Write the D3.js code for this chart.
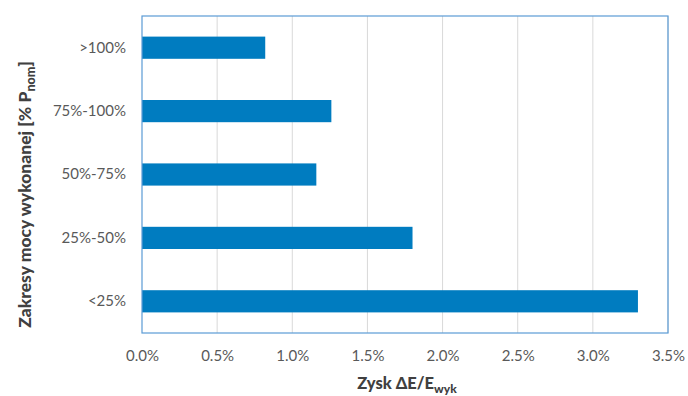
<!DOCTYPE html>
<html>
<head>
<meta charset="utf-8">
<script src="https://cdn.jsdelivr.net/npm/d3@7"></script>
<style>
  body { margin: 0; background: #fff; }
  svg { display: block; }
</style>
</head>
<body>
<svg id="chart" width="688" height="396"></svg>
<script>
// Power ranges (top to bottom) and the energy gain for each
const categories = [">100%", "75%-100%", "50%-75%", "25%-50%", "<25%"];
const gains = [0.0082, 0.0126, 0.0116, 0.0180, 0.0330];
const xTicks = [0, 0.005, 0.010, 0.015, 0.020, 0.025, 0.030, 0.035];

const svg = d3.select("#chart");
const margin = { left: 142, right: 20, top: 16, bottom: 63 };
const W = 688, H = 396;
const x0 = margin.left, x1 = W - margin.right;
const y0 = margin.top, y1 = H - margin.bottom;

const x = d3.scaleLinear().domain([0, 0.035]).range([x0, x1]);
const y = d3.scaleBand().domain(categories).range([y0, y1]).paddingInner(0.65).paddingOuter(0.325);

const font = "Lato, 'Open Sans', sans-serif";

// vertical gridlines
svg.append("g")
  .selectAll("line")
  .data(xTicks.slice(1))
  .join("line")
  .attr("x1", d => x(d)).attr("x2", d => x(d))
  .attr("y1", y0).attr("y2", y1)
  .attr("stroke", "#d9d9d9").attr("stroke-width", 1);

// bars
svg.append("g")
  .selectAll("rect")
  .data(categories)
  .join("rect")
  .attr("x", x(0))
  .attr("y", d => y(d))
  .attr("width", (d, i) => x(gains[i]) - x(0))
  .attr("height", y.bandwidth())
  .attr("fill", "#007cc0");

// plot frame
svg.append("rect")
  .attr("x", x0).attr("y", y0)
  .attr("width", x1 - x0).attr("height", y1 - y0)
  .attr("fill", "none")
  .attr("stroke", "#5b9bd5").attr("stroke-width", 1.2);

// x axis labels
const xAxis = d3.axisBottom(x).tickValues(xTicks).tickFormat(d3.format(".1%")).tickSize(0).tickPadding(17);
const gx = svg.append("g").attr("transform", `translate(0,${y1})`).call(xAxis);
gx.select(".domain").remove();
gx.selectAll("text").attr("fill", "#595959").style("font-family", font).style("font-size", "15px");

// y axis labels
const yAxis = d3.axisLeft(y).tickSize(0).tickPadding(16);
const gy = svg.append("g").attr("transform", `translate(${x0},0)`).call(yAxis);
gy.select(".domain").remove();
gy.selectAll("text").attr("fill", "#595959").style("font-family", font).style("font-size", "15px");

// x axis title
const xt = svg.append("text")
  .attr("x", (x0 + x1) / 2 + 2).attr("y", 389)
  .attr("text-anchor", "middle")
  .attr("fill", "#404040")
  .style("font-family", font).style("font-size", "16.5px").style("font-weight", "900");
xt.append("tspan").text("Zysk ΔE/E");
xt.append("tspan").attr("dy", 4).style("font-size", "12px").text("wyk");

// y axis title
const yt = svg.append("text")
  .attr("transform", `translate(31,${(y0 + y1) / 2 + 20}) rotate(-90)`)
  .attr("text-anchor", "middle")
  .attr("fill", "#404040")
  .style("font-family", font).style("font-size", "17.5px").style("font-weight", "900");
yt.append("tspan").text("Zakresy mocy wykonanej [% P");
yt.append("tspan").attr("dy", 4).style("font-size", "12.5px").text("nom");
yt.append("tspan").attr("dy", -4).text("]");
</script>
</body>
</html>
